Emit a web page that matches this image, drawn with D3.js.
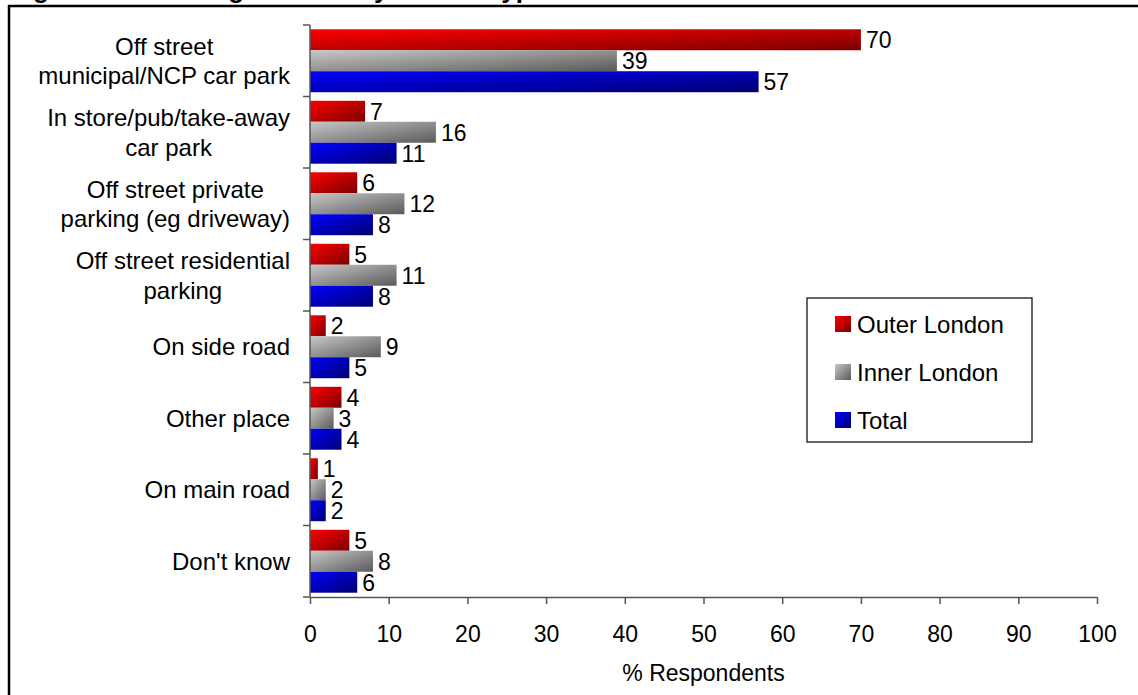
<!DOCTYPE html>
<html><head><meta charset="utf-8">
<script src="https://cdn.jsdelivr.net/npm/d3@7"></script>
<style>
html,body{margin:0;padding:0;background:#fff;}
svg{display:block;font-family:Arial,"Liberation Sans",sans-serif;}
</style></head>
<body><svg id="chart" width="1138" height="695"></svg>
<script>
const title = "Figure 4.4: Parking location by service type";
const categories = [
  ["Off street", "municipal/NCP car park"],
  ["In store/pub/take-away", "car park"],
  ["Off street private", "parking (eg driveway)"],
  ["Off street residential", "parking"],
  ["On side road"],
  ["Other place"],
  ["On main road"],
  ["Don't know"]
];
const seriesNames = ["Outer London", "Inner London", "Total"];
const outerLondon = [70, 7, 6, 5, 2, 4, 1, 5];
const innerLondon = [39, 16, 12, 11, 9, 3, 2, 8];
const total = [57, 11, 8, 8, 5, 4, 2, 6];
const xTicks = [0, 10, 20, 30, 40, 50, 60, 70, 80, 90, 100];
const xLabel = "% Respondents";

const seriesValues = [outerLondon, innerLondon, total];
const gradStops = [["#ff0000", "#7a0000"], ["#c8c8c8", "#5a5a5a"], ["#0000ff", "#000070"]];

const svg = d3.select("#chart");
const defs = svg.append("defs");
gradStops.forEach((s, i) => {
  const g = defs.append("linearGradient").attr("id", "g" + i)
    .attr("x1", 0).attr("y1", 0).attr("x2", 1).attr("y2", 1);
  g.append("stop").attr("offset", "0%").attr("stop-color", s[0]);
  g.append("stop").attr("offset", "100%").attr("stop-color", s[1]);
});

// outer frame
svg.append("rect").attr("x", 9).attr("y", 6).attr("width", 1140).attr("height", 700)
  .attr("fill", "none").attr("stroke", "#000").attr("stroke-width", 2.5);

// clipped title
svg.append("text").attr("x", 10).attr("y", -2).attr("font-weight", "bold")
  .attr("font-size", 26).text(title);

const x = d3.scaleLinear().domain([0, 100]).range([310, 1097]);
const catIdx = d3.range(categories.length);
const y = d3.scaleBand().domain(catIdx).range([25, 597]).padding(0);
const ySub = d3.scaleBand().domain(d3.range(3))
  .range([y.bandwidth() * 0.06, y.bandwidth() * 0.94]).padding(0);

// bars
seriesValues.forEach((vals, si) => {
  const g = svg.append("g");
  g.selectAll("rect").data(vals).join("rect")
    .attr("x", x(0))
    .attr("y", (d, i) => y(i) + ySub(si))
    .attr("width", d => x(d) - x(0))
    .attr("height", ySub.bandwidth())
    .attr("fill", `url(#g${si})`);
  g.selectAll("text").data(vals).join("text")
    .attr("x", d => x(d) + 5)
    .attr("y", (d, i) => y(i) + ySub(si) + ySub.bandwidth() / 2)
    .attr("dy", "0.36em")
    .attr("font-size", 23)
    .text(d => d);
});

// y axis
const yAxisG = svg.append("g");
yAxisG.append("line").attr("x1", x(0)).attr("x2", x(0)).attr("y1", 25).attr("y2", 597)
  .attr("stroke", "#555").attr("stroke-width", 1.5);
yAxisG.selectAll("line.t").data(d3.range(categories.length + 1)).join("line")
  .attr("class", "t")
  .attr("x1", x(0) - 7).attr("x2", x(0))
  .attr("y1", d => d < categories.length ? y(d) : 597)
  .attr("y2", d => d < categories.length ? y(d) : 597)
  .attr("stroke", "#555").attr("stroke-width", 1.5);

// category labels
const lineH = 29.5;
const fs = 24;
categories.forEach((lines, i) => {
  const cy = y(i) + y.bandwidth() / 2;
  const t = svg.append("text").attr("font-size", fs).attr("text-anchor", "middle");
  lines.forEach((l, k) => {
    t.append("tspan").attr("x", 0).attr("y", cy + (k - (lines.length - 1) / 2) * lineH).attr("dy", "0.36em").text(l);
  });
  const w = d3.max(t.selectAll("tspan").nodes(), n => n.getComputedTextLength());
  t.selectAll("tspan").attr("x", 290 - w / 2);
});

// x axis
const xAxis = d3.axisBottom(x).tickValues(xTicks).tickSize(7).tickSizeOuter(0).tickPadding(22);
const xg = svg.append("g").attr("transform", "translate(0,597)").call(xAxis);
xg.select(".domain").attr("stroke", "#555").attr("stroke-width", 1.5);
xg.selectAll(".tick line").attr("stroke", "#555").attr("stroke-width", 1.5);
xg.selectAll(".tick text").attr("font-size", 23).attr("font-family", "Arial, 'Liberation Sans', sans-serif").attr("fill", "#000");

svg.append("text").attr("x", (x(0) + x(100)) / 2).attr("y", 681)
  .attr("text-anchor", "middle").attr("font-size", 23).text(xLabel);

// legend
const lg = svg.append("g");
lg.append("rect").attr("x", 807).attr("y", 298).attr("width", 225).attr("height", 144)
  .attr("fill", "#fff").attr("stroke", "#000").attr("stroke-width", 1.2);
const ly = d3.scalePoint().domain(d3.range(3)).range([324, 420]);
seriesNames.forEach((n, i) => {
  lg.append("rect").attr("x", 835).attr("y", ly(i) - 8).attr("width", 16).attr("height", 16)
    .attr("fill", `url(#g${i})`);
  lg.append("text").attr("x", 857).attr("y", ly(i)).attr("dy", "0.36em")
    .attr("font-size", 24).text(n);
});
</script></body></html>
